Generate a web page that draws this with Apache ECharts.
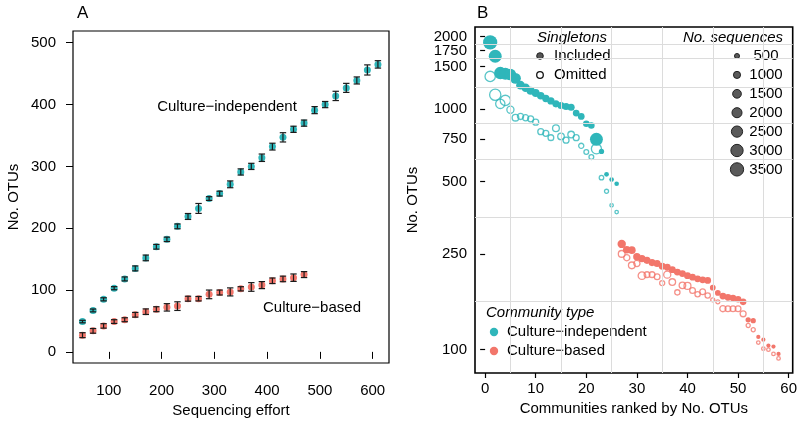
<!DOCTYPE html>
<html style="height: 100%">
<head>
    <meta charset="utf-8">
</head>
<body style="height: 100%; margin: 0; background: #fff">
    <div id="container" style="width: 800px; height: 423px"></div>
    <script src="https://cdn.jsdelivr.net/npm/echarts@6/dist/echarts.min.js"></script>
    <script type="text/javascript">
        // ---- Panel A: OTUs vs sequencing effort (mean with error bars)
        var effortIndep = [50, 70, 90, 110, 130, 150, 170, 190, 210, 230, 250, 270, 290, 310, 330,
            350, 370, 390, 410, 430, 450, 470, 490, 510, 530, 550, 570, 590, 610];
        var otuIndep = [49, 67, 85, 103, 118, 135, 152, 170, 182, 203, 219, 232, 248, 256, 271,
            291, 300, 314, 332, 347, 360, 370, 391, 400, 414, 427, 439, 456, 465];
        var errIndep = [2, 2.3, 2.5, 2.5, 3.2, 4, 4.6, 3.8, 3.6, 3.9, 4.8, 8, 3, 3.9, 5.5,
            5, 5, 6, 5.5, 7.5, 5, 5, 5.7, 5, 7.5, 7.3, 5.7, 8.2, 6];

        var effortCult = [50, 70, 90, 110, 130, 150, 170, 190, 210, 230, 250, 270, 290, 310, 330,
            350, 370, 390, 410, 430, 450, 470];
        var otuCult = [27, 34, 42, 49, 52, 60, 65, 69, 72, 74, 86, 86, 93, 96, 97,
            102, 105, 108, 115, 118, 120, 125];
        var errCult = [4, 3.8, 3.6, 3, 3.2, 3.8, 4.5, 4, 6, 7, 4, 3.6, 7, 4, 6.5,
            3.4, 7, 5.7, 4.5, 4.5, 6, 4.8];

        var xTicksA = [100, 200, 300, 400, 500, 600];
        var yTicksA = [0, 100, 200, 300, 400, 500];

        // ---- Panel B: communities ranked by No. OTUs (log scale)
        // culture-independent are ranks 1..26, culture-based 27..58
        var otuIndepIncl = [1890, 1655, 1410, 1400, 1390, 1340, 1255, 1225, 1190, 1165, 1135, 1105, 1080,
            1050, 1034, 1024, 1017, 961, 931, 868, 853, 748, 666, 535, 509, 489];
        var seqIndepIncl = [4000, 3300, 3000, 2900, 2700, 2300, 1500, 1400, 1300, 1200, 1100, 1050, 1050,
            1000, 1000, 1000, 1000, 900, 900, 850, 850, 3300, 550, 450, 430, 420];
        var otuIndepOmit = [1365, 1145, 1050, 1085, 993, 920, 931, 919, 910, 881, 805, 792, 760,
            832, 769, 742, 783, 760, 703, 662, 631, 683, 518, 455, 398, 373];
        var seqIndepOmit = [2100, 2500, 1700, 2100, 1000, 870, 750, 750, 700, 700, 700, 700, 650,
            900, 850, 700, 850, 700, 520, 450, 450, 2000, 400, 330, 240, 240];

        var otuCultIncl = [275, 260, 259, 243, 239, 235, 230, 228, 222, 220, 215, 210, 207, 203, 200, 197,
            195, 194, 181, 172, 167, 165, 164, 162, 158, 133, 132, 113, 110, 104, 103, 96];
        var seqCultIncl = [1400, 1150, 1150, 1100, 1050, 1000, 1000, 1000, 950, 950, 950, 950, 950, 950, 900, 900,
            900, 900, 650, 650, 900, 900, 850, 850, 850, 550, 550, 350, 350, 350, 350, 350];
        var otuCultOmit = [250, 241, 224, 228, 203, 205, 205, 201, 189, 205, 191, 173, 185, 184, 176, 170,
            174, 168, 161, 158, 148, 148, 148, 148, 141, 126, 121, 107, 101, 100, 96, 92];
        var seqCultOmit = [900, 750, 900, 750, 1150, 650, 650, 650, 500, 1000, 850, 550, 850, 950, 650, 550,
            650, 550, 330, 330, 750, 650, 650, 650, 700, 330, 330, 250, 250, 250, 250, 250];

        var xTicksB = [0, 10, 20, 30, 40, 50, 60];
        var yTicksB = [100, 250, 500, 750, 1000, 1500, 1750, 2000];
        var legendSizes = [500, 1000, 1500, 2000, 2500, 3000, 3500];

        var teal = '#2fb6ba';
        var salmon = '#f2766b';
        var font = 'Liberation Sans, Arial, sans-serif';

        function sizeOf(n) { return 0.225 * Math.sqrt(n); }
        function lg(v) { return Math.log10(v); }

        function zipA(xs, ys, es) {
            return xs.map(function (x, i) { return [x, ys[i], es[i]]; });
        }
        function zipB(otus, seqs, firstRank) {
            return otus.map(function (v, i) { return [i + firstRank, lg(v), seqs[i]]; });
        }

        function errorBar(params, api) {
            var x = api.value(0), y = api.value(1), e = api.value(2);
            var hi = api.coord([x, y + e]);
            var lo = api.coord([x, y - e]);
            var hw = 3.2;
            var st = { stroke: '#1a1a1a', lineWidth: 1.2 };
            return {
                type: 'group', children: [
                    { type: 'line', shape: { x1: hi[0], y1: hi[1], x2: lo[0], y2: lo[1] }, style: st },
                    { type: 'line', shape: { x1: hi[0] - hw, y1: hi[1], x2: hi[0] + hw, y2: hi[1] }, style: st },
                    { type: 'line', shape: { x1: lo[0] - hw, y1: lo[1], x2: lo[0] + hw, y2: lo[1] }, style: st }
                ]
            };
        }

        // minor grid lines of panel B sit halfway between ticks
        var xGridB = [], yGridB = [];
        for (var i = 0; i < xTicksB.length - 1; i++) xGridB.push((xTicksB[i] + xTicksB[i + 1]) / 2);
        for (var j = 0; j < yTicksB.length - 1; j++) yGridB.push((lg(yTicksB[j]) + lg(yTicksB[j + 1])) / 2);

        // the log ticks of B are close together: split labels over two stacked axes so none get dropped
        var yLabB1 = yTicksB.filter(function (v, k) { return k % 2 === 0; }).map(lg);
        var yLabB2 = yTicksB.filter(function (v, k) { return k % 2 === 1; }).map(lg);

        var chart = echarts.init(document.getElementById('container'), null, { renderer: 'canvas' });

        var tickLbl = { color: '#000', fontSize: 15, fontFamily: font, showMinLabel: true, showMaxLabel: true, hideOverlap: false };
        var nameTxt = { color: '#000', fontSize: 15, fontFamily: font };
        var logFmt = function (v) { return String(Math.round(Math.pow(10, v))); };

        var graphics = [
            { type: 'text', x: 77, y: 13, style: { text: 'A', font: '17px ' + font, fill: '#000', verticalAlign: 'middle' } },
            { type: 'text', x: 477, y: 13, style: { text: 'B', font: '17px ' + font, fill: '#000', verticalAlign: 'middle' } },
            { type: 'text', x: 227, y: 107, style: { text: 'Culture\u2212independent', font: '15px ' + font, fill: '#000', align: 'center', verticalAlign: 'middle' } },
            { type: 'text', x: 312, y: 308, style: { text: 'Culture\u2212based', font: '15px ' + font, fill: '#000', align: 'center', verticalAlign: 'middle' } },

            { type: 'text', x: 537, y: 38, style: { text: 'Singletons', font: 'italic 15px ' + font, fill: '#000', verticalAlign: 'middle' } },
            { type: 'circle', shape: { cx: 540, cy: 56, r: 3.3 }, style: { fill: '#555', stroke: '#222', lineWidth: 1 } },
            { type: 'text', x: 554, y: 56, style: { text: 'Included', font: '15px ' + font, fill: '#000', verticalAlign: 'middle' } },
            { type: 'circle', shape: { cx: 540, cy: 75, r: 3.3 }, style: { fill: 'none', stroke: '#111', lineWidth: 1.3 } },
            { type: 'text', x: 554, y: 75, style: { text: 'Omitted', font: '15px ' + font, fill: '#000', verticalAlign: 'middle' } },

            { type: 'text', x: 783, y: 38, style: { text: 'No. sequences', font: 'italic 15px ' + font, fill: '#000', align: 'right', verticalAlign: 'middle' } },

            { type: 'text', x: 486, y: 313, style: { text: 'Community type', font: 'italic 15px ' + font, fill: '#000', verticalAlign: 'middle' } },
            { type: 'circle', shape: { cx: 494, cy: 332, r: 4.2 }, style: { fill: teal } },
            { type: 'text', x: 507, y: 332, style: { text: 'Culture\u2212independent', font: '15px ' + font, fill: '#000', verticalAlign: 'middle' } },
            { type: 'circle', shape: { cx: 494, cy: 351, r: 4.2 }, style: { fill: salmon } },
            { type: 'text', x: 507, y: 351, style: { text: 'Culture\u2212based', font: '15px ' + font, fill: '#000', verticalAlign: 'middle' } }
        ];
        legendSizes.forEach(function (n, k) {
            var cy = 56 + k * 18.9;
            graphics.push({ type: 'circle', shape: { cx: 737, cy: cy, r: sizeOf(n) / 2 }, style: { fill: '#5a5a5a', stroke: '#222', lineWidth: 1 } });
            graphics.push({ type: 'text', x: 766, y: cy, style: { text: String(n), font: '15px ' + font, fill: '#000', align: 'center', verticalAlign: 'middle' } });
        });

        var option = {
            backgroundColor: '#fff',
            animation: false,
            grid: [
                { left: 73, top: 31, width: 316, height: 333, show: true, borderColor: '#000', borderWidth: 1.2, backgroundColor: 'transparent' },
                { left: 475, top: 27, width: 319, height: 346, show: true, borderColor: '#000', borderWidth: 1.6, backgroundColor: 'transparent' }
            ],
            xAxis: [{
                gridIndex: 0, type: 'value', min: 32, max: 631,
                name: 'Sequencing effort', nameLocation: 'middle', nameGap: 40, nameTextStyle: nameTxt,
                axisLine: { show: false },
                axisTick: { show: true, length: 7, customValues: xTicksA, lineStyle: { color: '#000' } },
                axisLabel: Object.assign({ margin: 20, customValues: xTicksA }, tickLbl),
                splitLine: { show: false }
            }, {
                gridIndex: 1, type: 'value', min: -2, max: 60.8,
                name: 'Communities ranked by No. OTUs', nameLocation: 'middle', nameGap: 28, nameTextStyle: nameTxt,
                axisLine: { show: false },
                axisTick: { show: true, length: 5, customValues: xTicksB, lineStyle: { color: '#000', width: 1.2 } },
                axisLabel: Object.assign({ margin: 8, customValues: xTicksB }, tickLbl),
                splitLine: { show: false }
            }],
            yAxis: [{
                gridIndex: 0, type: 'value', min: -18, max: 519,
                name: 'No. OTUs', nameLocation: 'middle', nameGap: 52, nameRotate: 90, nameTextStyle: nameTxt,
                axisLine: { show: false },
                axisTick: { show: true, length: 7, customValues: yTicksA, lineStyle: { color: '#000' } },
                axisLabel: Object.assign({ margin: 17, customValues: yTicksA }, tickLbl),
                splitLine: { show: false }
            }, {
                gridIndex: 1, type: 'value', min: lg(80), max: lg(2190), position: 'left', offset: 0,
                name: 'No. OTUs', nameLocation: 'middle', nameGap: 55, nameRotate: 90, nameTextStyle: nameTxt,
                axisLine: { show: false },
                axisTick: { show: true, length: 5, customValues: yTicksB.map(lg), lineStyle: { color: '#000', width: 1.2 } },
                axisLabel: Object.assign({}, tickLbl, { margin: 8, customValues: yLabB1, formatter: logFmt }),
                splitLine: { show: false }
            }, {
                gridIndex: 1, type: 'value', min: lg(80), max: lg(2190), position: 'left', offset: 0,
                axisLine: { show: false },
                axisTick: { show: false },
                axisLabel: Object.assign({}, tickLbl, { margin: 8, customValues: yLabB2, formatter: logFmt }),
                splitLine: { show: false }
            }],
            graphic: { elements: graphics },
            series: [
                // panel A
                {
                    type: 'scatter', xAxisIndex: 0, yAxisIndex: 0, z: 2,
                    symbolSize: 7, itemStyle: { color: teal, opacity: 1 },
                    data: zipA(effortIndep, otuIndep, errIndep)
                },
                {
                    type: 'scatter', xAxisIndex: 0, yAxisIndex: 0, z: 2,
                    symbolSize: 7, itemStyle: { color: salmon, opacity: 1 },
                    data: zipA(effortCult, otuCult, errCult)
                },
                {
                    type: 'custom', xAxisIndex: 0, yAxisIndex: 0, z: 3,
                    renderItem: errorBar, data: zipA(effortIndep, otuIndep, errIndep)
                },
                {
                    type: 'custom', xAxisIndex: 0, yAxisIndex: 0, z: 3,
                    renderItem: errorBar, data: zipA(effortCult, otuCult, errCult)
                },
                // panel B grid lines
                {
                    type: 'line', xAxisIndex: 1, yAxisIndex: 1, z: 1, data: [],
                    markLine: {
                        silent: true, symbol: ['none', 'none'], label: { show: false },
                        lineStyle: { color: '#dcdcdc', width: 1, type: 'solid' },
                        data: xGridB.map(function (v) { return { xAxis: v }; })
                            .concat(yGridB.map(function (v) { return { yAxis: v }; }))
                    }
                },
                // panel B points
                {
                    type: 'scatter', xAxisIndex: 1, yAxisIndex: 1, z: 3,
                    symbolSize: function (v) { return sizeOf(v[2]); },
                    itemStyle: { color: 'rgba(0,0,0,0)', borderColor: teal, borderWidth: 1.3 },
                    data: zipB(otuIndepOmit, seqIndepOmit, 1)
                },
                {
                    type: 'scatter', xAxisIndex: 1, yAxisIndex: 1, z: 3,
                    symbolSize: function (v) { return sizeOf(v[2]); },
                    itemStyle: { color: teal, opacity: 1 },
                    data: zipB(otuIndepIncl, seqIndepIncl, 1)
                },
                {
                    type: 'scatter', xAxisIndex: 1, yAxisIndex: 1, z: 3,
                    symbolSize: function (v) { return sizeOf(v[2]); },
                    itemStyle: { color: 'rgba(0,0,0,0)', borderColor: salmon, borderWidth: 1.3 },
                    data: zipB(otuCultOmit, seqCultOmit, 27)
                },
                {
                    type: 'scatter', xAxisIndex: 1, yAxisIndex: 1, z: 3,
                    symbolSize: function (v) { return sizeOf(v[2]); },
                    itemStyle: { color: salmon, opacity: 1 },
                    data: zipB(otuCultIncl, seqCultIncl, 27)
                }
            ]
        };

        option && chart.setOption(option);
    </script>
</body>
</html>
